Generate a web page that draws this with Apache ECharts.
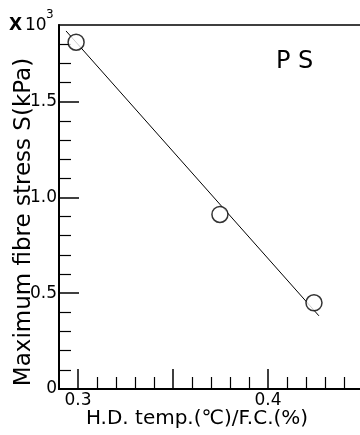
<!DOCTYPE html>
<html>
<head>
<meta charset="utf-8">
<script src="https://cdn.jsdelivr.net/npm/echarts@6/dist/echarts.min.js"></script>
<style>html,body{margin:0;padding:0;background:#fff}#c{width:360px;height:435px}</style>
</head>
<body>
<div id="c"></div>
<script>
// Data
var pointsX = [0.299, 0.3747, 0.4242];
var pointsY = [1.81, 0.911, 0.450];
var fitX = [0.2937, 0.4268];
var fitY = [1.869, 0.382];
// Ticks
var xMajorTicks = [0.3, 0.35, 0.4, 0.45];
var xMinorTicks = [0.31, 0.32, 0.33, 0.34, 0.36, 0.37, 0.38, 0.39, 0.41, 0.42, 0.43, 0.44];
var xLabels = [0.3, 0.4];
var yMajorTicks = [0.5, 1.0, 1.5];
var yMinorTicks = [0.1, 0.2, 0.3, 0.4, 0.6, 0.7, 0.8, 0.9, 1.1, 1.2, 1.3, 1.4, 1.6, 1.7, 1.8];
var yLabels = [0, 0.5, 1.0, 1.5];

var FONT = 'DejaVu Sans';
var chart = echarts.init(document.getElementById('c'), null, {renderer: 'canvas'});

function pairs(xs, ys) { return xs.map(function (x, i) { return [x, ys[i]]; }); }

chart.setOption({
  animation: false,
  backgroundColor: '#fff',
  grid: {left: 59, width: 304, top: 25, height: 364, outerBoundsMode: 'none', containLabel: false, show: true, borderColor: '#000', borderWidth: 1.5, backgroundColor: 'transparent'},
  xAxis: [{
    type: 'value', min: 0.29, max: 0.45, position: 'bottom',
    axisLine: {show: true, onZero: false, lineStyle: {color: '#000', width: 2}},
    axisTick: {show: true, inside: true, length: 20, customValues: xMajorTicks, lineStyle: {color: '#000', width: 1.5}},
    axisLabel: {show: true, customValues: xLabels, formatter: function (v) { return v.toFixed(1); }, color: '#000', fontFamily: FONT, fontSize: 17, margin: 3},
    splitLine: {show: false}
  }, {
    type: 'value', min: 0.29, max: 0.45, position: 'bottom',
    axisLine: {show: false, onZero: false},
    axisTick: {show: true, inside: true, length: 12, customValues: xMinorTicks, lineStyle: {color: '#000', width: 1.2}},
    axisLabel: {show: false},
    splitLine: {show: false}
  }],
  yAxis: [{
    type: 'value', min: 0, max: 1.9, position: 'left',
    axisLine: {show: true, onZero: false, lineStyle: {color: '#000', width: 2}},
    axisTick: {show: true, inside: true, length: 20, customValues: yMajorTicks, lineStyle: {color: '#000', width: 1.5}},
    axisLabel: {show: true, customValues: yLabels, formatter: function (v) { return v === 0 ? '0' : v.toFixed(1); }, color: '#000', fontFamily: FONT, fontSize: 17, margin: 2},
    splitLine: {show: false}
  }, {
    type: 'value', min: 0, max: 1.9, position: 'left',
    axisLine: {show: false, onZero: false},
    axisTick: {show: true, inside: true, length: 12, customValues: yMinorTicks, lineStyle: {color: '#000', width: 1.2}},
    axisLabel: {show: false},
    splitLine: {show: false}
  }],
  series: [{
    type: 'line', data: pairs(fitX, fitY), showSymbol: false, symbol: 'none',
    lineStyle: {color: '#000', width: 1}, z: 2, silent: true
  }, {
    type: 'scatter', data: pairs(pointsX, pointsY), symbol: 'circle', symbolSize: 16,
    itemStyle: {color: '#fff', borderColor: '#000', borderWidth: 1.5}, z: 3
  }],
  graphic: [
    {type: 'text', left: 276, top: 50, style: {text: 'P S', fill: '#000', font: '24px ' + FONT}},
    {type: 'text', left: 9, top: 17, style: {text: 'X', fill: '#000', font: 'bold 17px ' + FONT}},
    {type: 'text', left: 25, top: 17, style: {text: '10', fill: '#000', font: '17px ' + FONT}},
    {type: 'text', left: 46, top: 9, style: {text: '3', fill: '#000', font: '12px ' + FONT}},
    {type: 'text', x: 24, y: 222, rotation: Math.PI / 2, style: {text: 'Maximum fibre stress S(kPa)', fill: '#000', font: '23px ' + FONT, align: 'center', verticalAlign: 'middle'}},
    {type: 'text', x: 197, y: 419, style: {text: 'H.D. temp.(℃)/F.C.(%)', fill: '#000', font: '20px ' + FONT, align: 'center', verticalAlign: 'middle'}}
  ]
});
</script>
</body>
</html>
